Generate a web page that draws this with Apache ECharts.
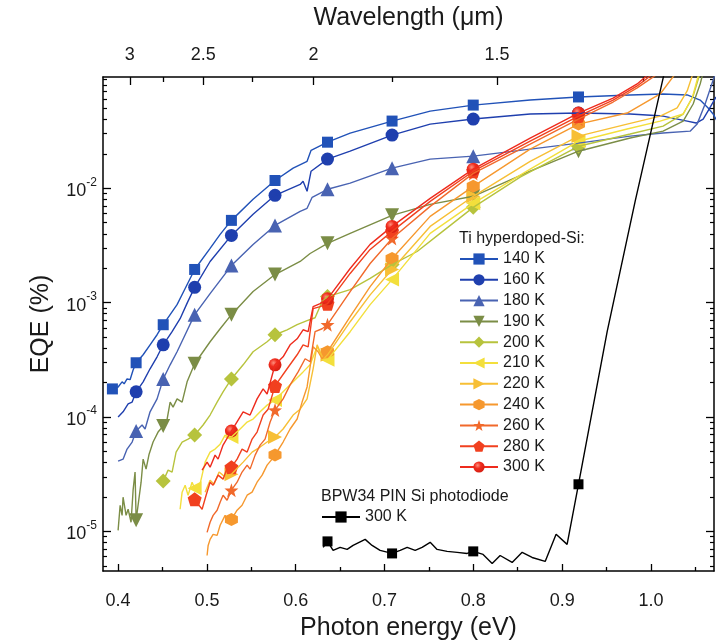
<!DOCTYPE html>
<html>
<head>
<meta charset="utf-8">
<script src="https://cdn.jsdelivr.net/npm/echarts@6/dist/echarts.min.js"></script>
<style>
html,body{margin:0;padding:0;background:#fff;}
#chart{width:725px;height:643px;}
</style>
</head>
<body>
<div id="chart"></div>
<script>
// Photon energy (eV) <-> wavelength (µm)
const HC = 1.2398;

// Energies where symbols are drawn on each curve (λ = 3.15 … 1.35 µm)
const markerEnergy = [0.3936, 0.4203, 0.4508, 0.4862, 0.5276, 0.5767, 0.6358, 0.7085, 0.7999, 0.9184];

// Axis ticks
const energyTicks = [0.4, 0.5, 0.6, 0.7, 0.8, 0.9, 1.0];
const energyMinorTicks = [0.45, 0.55, 0.65, 0.75, 0.85, 0.95, 1.05];
const wavelengthTicks = [3, 2.5, 2, 1.5];
const wavelengthMinorTicks = [2.75, 2.25, 1.75, 1.25];
const eqeDecades = [1e-5, 1e-4, 1e-3, 1e-2];
const eqeMinorTicks = [
  5e-6, 6e-6, 7e-6, 8e-6, 9e-6,
  2e-5, 3e-5, 4e-5, 5e-5, 6e-5, 7e-5, 8e-5, 9e-5,
  2e-4, 3e-4, 4e-4, 5e-4, 6e-4, 7e-4, 8e-4, 9e-4,
  2e-3, 3e-3, 4e-3, 5e-3, 6e-3, 7e-3, 8e-3, 9e-3,
  2e-2, 3e-2, 4e-2, 5e-2, 6e-2, 7e-2, 8e-2, 9e-2
];

// Ti hyperdoped-Si EQE (%) vs photon energy (eV)
const t140 = [[0.3936,1.76e-4],[0.4000,1.83e-4],[0.4045,2.03e-4],[0.4068,1.95e-4],[0.4101,2.15e-4],[0.4135,2.12e-4],[0.4169,2.58e-4],[0.4203,2.98e-4],[0.4282,3.50e-4],[0.4360,4.28e-4],[0.4439,5.24e-4],[0.4508,6.41e-4],[0.4586,7.85e-4],[0.4664,9.60e-4],[0.4755,1.33e-3],[0.4862,1.95e-3],[0.5036,2.98e-3],[0.5149,3.95e-3],[0.5276,5.24e-3],[0.5520,8.01e-3],[0.5767,1.17e-2],[0.5971,1.50e-2],[0.6128,1.72e-2],[0.6173,2.15e-2],[0.6358,2.53e-2],[0.6613,3.04e-2],[0.7085,3.87e-2],[0.7514,4.73e-2],[0.7999,5.34e-2],[0.8640,5.91e-2],[0.9184,6.29e-2],[0.9766,6.55e-2],[1.0137,6.68e-2],[1.0408,6.55e-2],[1.0554,5.91e-2],[1.0644,5.04e-2],[1.0700,4.46e-2],[1.0757,3.72e-2]];
const t160 = [[0.4000,1.00e-4],[0.4056,1.11e-4],[0.4113,1.30e-4],[0.4158,1.35e-4],[0.4203,1.66e-4],[0.4282,2.03e-4],[0.4360,2.64e-4],[0.4439,3.36e-4],[0.4508,4.28e-4],[0.4608,5.57e-4],[0.4698,7.24e-4],[0.4780,1.00e-3],[0.4862,1.36e-3],[0.5036,2.29e-3],[0.5276,3.87e-3],[0.5520,5.92e-3],[0.5767,8.68e-3],[0.6050,1.08e-2],[0.6083,1.15e-2],[0.6128,9.42e-3],[0.6173,1.41e-2],[0.6358,1.80e-2],[0.6613,2.11e-2],[0.7085,2.92e-2],[0.7514,3.64e-2],[0.7999,4.03e-2],[0.8640,4.46e-2],[0.9184,4.55e-2],[0.9766,4.46e-2],[1.0137,4.28e-2],[1.0408,3.87e-2],[1.0509,3.72e-2],[1.0588,4.03e-2],[1.0655,4.93e-2],[1.0734,6.29e-2]];
const t180 = [[0.4000,4.11e-5],[0.4056,4.28e-5],[0.4101,5.24e-5],[0.4158,6.03e-5],[0.4203,7.54e-5],[0.4270,8.51e-5],[0.4304,7.85e-5],[0.4360,1.11e-4],[0.4439,1.44e-4],[0.4508,2.15e-4],[0.4586,2.86e-4],[0.4664,3.72e-4],[0.4755,5.24e-4],[0.4862,7.85e-4],[0.5036,1.20e-3],[0.5276,2.11e-3],[0.5520,3.23e-3],[0.5767,4.73e-3],[0.6050,6.28e-3],[0.6128,6.68e-3],[0.6185,8.34e-3],[0.6358,9.80e-3],[0.6613,1.11e-2],[0.7085,1.50e-2],[0.7514,1.80e-2],[0.7999,1.91e-2],[0.8640,2.20e-2],[0.9184,2.48e-2],[0.9766,2.86e-2],[1.0137,3.04e-2],[1.0441,3.16e-2],[1.0520,3.64e-2],[1.0610,5.46e-2],[1.0678,7.85e-2],[1.0734,0.106]];
const t190 = [[0.4000,1.02e-5],[0.4023,1.69e-5],[0.4045,1.38e-5],[0.4056,1.99e-5],[0.4090,1.38e-5],[0.4113,1.56e-5],[0.4146,1.20e-5],[0.4169,2.29e-5],[0.4191,3.30e-5],[0.4203,1.25e-5],[0.4259,2.69e-5],[0.4282,4.28e-5],[0.4315,3.50e-5],[0.4349,4.73e-5],[0.4394,6.04e-5],[0.4450,7.38e-5],[0.4508,8.34e-5],[0.4552,9.60e-5],[0.4586,1.35e-4],[0.4619,1.22e-4],[0.4664,1.44e-4],[0.4721,1.35e-4],[0.4777,2.03e-4],[0.4862,2.92e-4],[0.4957,3.72e-4],[0.5036,4.55e-4],[0.5149,5.91e-4],[0.5276,7.85e-4],[0.5520,1.25e-3],[0.5767,1.76e-3],[0.6050,2.29e-3],[0.6162,2.69e-3],[0.6358,3.30e-3],[0.6613,4.03e-3],[0.7085,5.80e-3],[0.7514,7.24e-3],[0.7999,8.51e-3],[0.8640,1.41e-2],[0.9184,2.11e-2],[0.9766,2.75e-2],[1.0137,3.16e-2],[1.0363,3.87e-2],[1.0475,5.46e-2],[1.0554,8.17e-2],[1.0599,0.111]];
const t200 = [[0.4508,2.75e-5],[0.4563,3.43e-5],[0.4608,3.30e-5],[0.4653,4.93e-5],[0.4721,6.04e-5],[0.4788,6.41e-5],[0.4862,6.95e-5],[0.4957,8.51e-5],[0.5036,1.04e-4],[0.5115,1.35e-4],[0.5182,1.66e-4],[0.5276,2.15e-4],[0.5408,2.86e-4],[0.5520,3.72e-4],[0.5678,4.55e-4],[0.5767,5.24e-4],[0.5903,5.79e-4],[0.6016,6.41e-4],[0.6128,6.95e-4],[0.6218,7.38e-4],[0.6297,1.02e-3],[0.6358,1.13e-3],[0.6613,1.30e-3],[0.6838,1.63e-3],[0.7085,2.15e-3],[0.7367,2.80e-3],[0.7626,4.03e-3],[0.7999,6.81e-3],[0.8527,1.25e-2],[0.9184,2.33e-2],[0.9766,2.98e-2],[1.0137,3.50e-2],[1.0363,4.46e-2],[1.0475,6.41e-2],[1.0554,0.102]];
const t210 = [[0.4698,1.56e-5],[0.4721,2.20e-5],[0.4755,2.53e-5],[0.4788,2.07e-5],[0.4833,2.69e-5],[0.4862,2.38e-5],[0.4901,2.20e-5],[0.4946,3.10e-5],[0.4980,4.03e-5],[0.5036,4.93e-5],[0.5092,5.24e-5],[0.5149,5.79e-5],[0.5205,6.95e-5],[0.5276,6.68e-5],[0.5374,7.85e-5],[0.5453,9.03e-5],[0.5520,9.60e-5],[0.5599,1.11e-4],[0.5678,1.27e-4],[0.5767,1.41e-4],[0.5858,1.66e-4],[0.5971,2.03e-4],[0.6083,2.48e-4],[0.6162,2.86e-4],[0.6241,4.11e-4],[0.6309,3.16e-4],[0.6358,3.16e-4],[0.6613,5.57e-4],[0.6838,9.60e-4],[0.7085,1.59e-3],[0.7514,4.03e-3],[0.7999,7.38e-3],[0.8640,1.47e-2],[0.9184,2.58e-2],[0.9732,3.30e-2],[1.0104,3.87e-2],[1.0363,4.46e-2],[1.0464,6.15e-2],[1.0532,9.60e-2]];
const t220 = [[0.4980,2.20e-5],[0.5036,2.80e-5],[0.5081,2.58e-5],[0.5137,3.30e-5],[0.5194,3.04e-5],[0.5276,3.16e-5],[0.5408,4.03e-5],[0.5509,4.93e-5],[0.5599,5.46e-5],[0.5678,6.04e-5],[0.5767,6.68e-5],[0.5858,7.85e-5],[0.5971,1.04e-4],[0.6050,1.17e-4],[0.6128,1.44e-4],[0.6196,2.64e-4],[0.6241,4.28e-4],[0.6309,3.23e-4],[0.6358,3.50e-4],[0.6613,6.81e-4],[0.6838,1.17e-3],[0.7085,1.95e-3],[0.7514,4.64e-3],[0.7999,8.51e-3],[0.8640,1.72e-2],[0.9184,2.86e-2],[0.9732,3.64e-2],[1.0104,4.28e-2],[1.0295,5.04e-2],[1.0408,7.10e-2],[1.0475,0.102]];
const t240 = [[0.5002,6.15e-6],[0.5014,7.53e-6],[0.5036,8.51e-6],[0.5070,9.42e-6],[0.5115,9.22e-6],[0.5149,1.13e-5],[0.5205,1.38e-5],[0.5239,1.27e-5],[0.5276,1.27e-5],[0.5340,1.53e-5],[0.5396,1.69e-5],[0.5453,2.07e-5],[0.5509,2.20e-5],[0.5565,2.69e-5],[0.5622,3.10e-5],[0.5678,3.79e-5],[0.5734,4.28e-5],[0.5767,4.64e-5],[0.5858,6.04e-5],[0.5937,7.85e-5],[0.6016,9.60e-5],[0.6072,1.35e-4],[0.6128,1.83e-4],[0.6196,4.11e-4],[0.6252,3.72e-4],[0.6297,3.23e-4],[0.6358,3.72e-4],[0.6613,7.54e-4],[0.6838,1.38e-3],[0.7085,2.43e-3],[0.7514,5.68e-3],[0.7999,1.04e-2],[0.8640,2.20e-2],[0.9184,3.64e-2],[0.9732,4.55e-2],[1.0104,6.68e-2],[1.0273,0.100]];
const t260 = [[0.5002,9.80e-6],[0.5036,1.20e-5],[0.5070,1.38e-5],[0.5115,1.53e-5],[0.5149,1.80e-5],[0.5182,2.07e-5],[0.5227,1.87e-5],[0.5276,2.29e-5],[0.5340,2.69e-5],[0.5396,3.30e-5],[0.5453,3.79e-5],[0.5486,3.50e-5],[0.5543,4.64e-5],[0.5599,5.68e-5],[0.5655,6.41e-5],[0.5712,9.03e-5],[0.5767,1.15e-4],[0.5858,1.44e-4],[0.5937,1.91e-4],[0.6027,2.48e-4],[0.6106,3.23e-4],[0.6162,3.04e-4],[0.6218,5.57e-4],[0.6297,5.91e-4],[0.6358,6.41e-4],[0.6613,1.25e-3],[0.6838,2.20e-3],[0.7085,3.64e-3],[0.7514,6.95e-3],[0.7999,1.35e-2],[0.8640,2.43e-2],[0.9184,4.03e-2],[0.9574,5.68e-2],[0.9845,7.54e-2],[1.0059,9.80e-2]];
const t280 = [[0.4862,1.91e-5],[0.4901,1.73e-5],[0.4946,1.56e-5],[0.4991,2.07e-5],[0.5036,2.69e-5],[0.5070,2.53e-5],[0.5126,3.10e-5],[0.5182,2.86e-5],[0.5239,3.79e-5],[0.5276,3.64e-5],[0.5340,4.28e-5],[0.5396,5.24e-5],[0.5453,4.93e-5],[0.5509,6.41e-5],[0.5565,7.38e-5],[0.5633,1.04e-4],[0.5689,1.17e-4],[0.5767,1.87e-4],[0.5903,2.64e-4],[0.6016,3.50e-4],[0.6083,4.28e-4],[0.6140,4.11e-4],[0.6196,8.85e-4],[0.6275,9.22e-4],[0.6358,9.80e-4],[0.6613,1.80e-3],[0.6838,2.92e-3],[0.7085,4.20e-3],[0.7514,7.69e-3],[0.7999,1.41e-2],[0.8640,2.58e-2],[0.9184,4.28e-2],[0.9574,5.91e-2],[0.9845,7.85e-2],[1.0036,0.102]];
const t300 = [[0.4946,3.43e-5],[0.5002,4.03e-5],[0.5036,3.64e-5],[0.5092,4.64e-5],[0.5126,4.28e-5],[0.5182,5.68e-5],[0.5276,7.54e-5],[0.5408,1.11e-4],[0.5486,1.04e-4],[0.5565,1.44e-4],[0.5633,1.76e-4],[0.5678,1.59e-4],[0.5767,2.86e-4],[0.5858,3.36e-4],[0.5937,4.28e-4],[0.6016,4.83e-4],[0.6083,5.79e-4],[0.6140,5.57e-4],[0.6196,9.22e-4],[0.6275,9.80e-4],[0.6358,1.08e-3],[0.6613,1.99e-3],[0.6838,3.23e-3],[0.7085,4.64e-3],[0.7514,8.17e-3],[0.7999,1.47e-2],[0.8640,2.75e-2],[0.9184,4.55e-2],[0.9574,6.15e-2],[0.9845,8.17e-2],[1.0014,0.106]];

// BPW34 PIN Si photodiode, 300 K
const bpw34 = [[0.6309,7.24e-6],[0.6358,8.17e-6],[0.6421,6.81e-6],[0.6500,7.24e-6],[0.6579,6.95e-6],[0.6646,7.53e-6],[0.6782,8.51e-6],[0.6860,7.53e-6],[0.6950,6.81e-6],[0.7085,6.41e-6],[0.7176,6.81e-6],[0.7255,7.24e-6],[0.7345,6.81e-6],[0.7423,7.24e-6],[0.7514,8.02e-6],[0.7592,6.95e-6],[0.7705,6.68e-6],[0.7818,6.55e-6],[0.7930,6.41e-6],[0.7999,6.68e-6],[0.8110,6.28e-6],[0.8212,5.24e-6],[0.8302,6.15e-6],[0.8437,5.35e-6],[0.8550,6.55e-6],[0.8662,5.91e-6],[0.8809,5.46e-6],[0.8932,9.42e-6],[0.9056,7.69e-6],[0.9184,2.58e-5],[0.9507,5.57e-4],[0.9822,7.69e-3],[1.0137,9.20e-2],[1.0239,0.195]];

const FONT = '"Liberation Sans", Arial, Helvetica, sans-serif';
const TXT = '#1a1a1a';

const STAR = 'path://M50 0 L61.76 33.82 L97.55 34.55 L69.02 56.18 L79.39 90.45 L50 70 L20.61 90.45 L30.98 56.18 L2.45 34.55 L38.24 33.82 Z';
const PENTAGON = 'path://M50 0 L97.55 34.55 L79.39 90.45 L20.61 90.45 L2.45 34.55 Z';
const HEXAGON = 'path://M50 0 L93.3 25 L93.3 75 L50 100 L6.7 75 L6.7 25 Z';

const ballRed = {
  type: 'radial', x: 0.38, y: 0.35, r: 0.65,
  colorStops: [{offset: 0, color: '#ff8e7c'}, {offset: 0.45, color: '#ef2c1e'}, {offset: 1, color: '#d61f12'}]
};

const tiCurves = [
  {name: '140 K', data: t140, color: '#2152b8', symbol: 'rect', size: 11},
  {name: '160 K', data: t160, color: '#1f3fae', symbol: 'circle', size: 13},
  {name: '180 K', data: t180, color: '#4963b2', symbol: 'triangle', size: 14},
  {name: '190 K', data: t190, color: '#7b8d46', symbol: 'triangle', size: 14, rotate: 180},
  {name: '200 K', data: t200, color: '#b7c33d', symbol: 'diamond', size: 15},
  {name: '210 K', data: t210, color: '#f3df3c', symbol: 'triangle', size: 14, rotate: 90},
  {name: '220 K', data: t220, color: '#f7bf35', symbol: 'triangle', size: 14, rotate: -90},
  {name: '240 K', data: t240, color: '#f6982e', symbol: HEXAGON, size: 13},
  {name: '260 K', data: t260, color: '#f1692b', symbol: STAR, size: 14},
  {name: '280 K', data: t280, color: '#f1401f', symbol: PENTAGON, size: 14},
  {name: '300 K', data: t300, color: '#ee2b1d', fill: ballRed, symbol: 'circle', size: 13}
];
const bpwCurve = {name: 'BPW34 300 K', data: bpw34, color: '#000000', symbol: 'rect', size: 10};

function curveSeries(c) {
  const fill = c.fill || c.color;
  const marks = c.data.filter(p => markerEnergy.includes(p[0]));
  return [
    {
      type: 'line', name: c.name, data: c.data,
      xAxisIndex: 0, yAxisIndex: 0,
      showSymbol: false, symbol: c.symbol, symbolSize: c.size, symbolRotate: c.rotate || 0,
      lineStyle: {color: c.color, width: 1.4},
      itemStyle: {color: fill},
      emphasis: {disabled: true}, silent: true, clip: true
    },
    {
      type: 'scatter', name: c.name, data: marks,
      xAxisIndex: 0, yAxisIndex: 0,
      symbol: c.symbol, symbolSize: c.size, symbolRotate: c.rotate || 0,
      itemStyle: {color: fill, opacity: 1},
      emphasis: {disabled: true}, silent: true, clip: false
    }
  ];
}

const series = [];
tiCurves.forEach(c => series.push(...curveSeries(c)));
series.push(...curveSeries(bpwCurve));

const X_MIN = 0.383, X_MAX = 1.071;
const Y_MIN = 4.5e-6, Y_MAX = 0.094;
const axisLineStyle = {color: '#000', width: 1.5};

const option = {
  animation: false,
  backgroundColor: '#ffffff',
  grid: {left: 103, right: 11, top: 77, bottom: 72, containLabel: false, outerBoundsMode: 'none'},
  xAxis: [
    {
      type: 'value', position: 'bottom', min: X_MIN, max: X_MAX,
      axisLine: {show: true, onZero: false, lineStyle: axisLineStyle},
      axisTick: {show: true, inside: true, length: 7, customValues: energyTicks, lineStyle: {color: '#000', width: 1.3}},
      axisLabel: {customValues: energyTicks, formatter: v => v.toFixed(1), fontSize: 18, color: TXT, fontFamily: FONT, margin: 21},
      splitLine: {show: false},
      name: 'Photon energy (eV)', nameLocation: 'middle', nameGap: 45,
      nameTextStyle: {fontSize: 25, color: TXT, fontFamily: FONT}
    },
    {
      type: 'value', position: 'bottom', min: X_MIN, max: X_MAX,
      axisLine: {show: false},
      axisTick: {show: true, inside: true, length: 4, customValues: energyMinorTicks, lineStyle: {color: '#000', width: 1.3}},
      axisLabel: {show: false}, splitLine: {show: false}
    },
    {
      type: 'value', position: 'top', min: X_MIN, max: X_MAX,
      axisLine: {show: true, onZero: false, lineStyle: axisLineStyle},
      axisTick: {show: true, inside: true, length: 8, customValues: wavelengthTicks.map(w => HC / w), lineStyle: {color: '#000', width: 1.3}},
      axisLabel: {customValues: wavelengthTicks.map(w => HC / w), formatter: v => String(+(HC / v).toFixed(2)), fontSize: 18, color: TXT, fontFamily: FONT, margin: 13},
      splitLine: {show: false},
      name: 'Wavelength (\u03bcm)', nameLocation: 'middle', nameGap: 46,
      nameTextStyle: {fontSize: 25, color: TXT, fontFamily: FONT}
    },
    {
      type: 'value', position: 'top', min: X_MIN, max: X_MAX,
      axisLine: {show: false},
      axisTick: {show: true, inside: true, length: 5, customValues: wavelengthMinorTicks.map(w => HC / w), lineStyle: {color: '#000', width: 1.3}},
      axisLabel: {show: false}, splitLine: {show: false}
    }
  ],
  yAxis: [
    {
      type: 'log', logBase: 10, position: 'left', min: Y_MIN, max: Y_MAX,
      axisLine: {show: true, onZero: false, lineStyle: axisLineStyle},
      axisTick: {show: true, inside: true, length: 8, customValues: eqeDecades, lineStyle: {color: '#000', width: 1.3}},
      axisLabel: {
        customValues: eqeDecades,
        formatter: v => '{b|10}{s|' + Math.round(Math.log10(v)) + '}',
        margin: 6,
        rich: {
          b: {fontSize: 18, color: TXT, fontFamily: FONT, lineHeight: 24, verticalAlign: 'bottom'},
          s: {fontSize: 12, color: TXT, fontFamily: FONT, lineHeight: 13, verticalAlign: 'top'}
        }
      },
      splitLine: {show: false},
      name: 'EQE (%)', nameLocation: 'middle', nameGap: 49,
      nameTextStyle: {fontSize: 25, color: TXT, fontFamily: FONT}
    },
    {
      type: 'log', logBase: 10, position: 'left', min: Y_MIN, max: Y_MAX,
      axisLine: {show: false},
      axisTick: {show: true, inside: true, length: 4, customValues: eqeMinorTicks, lineStyle: {color: '#000', width: 1.2}},
      axisLabel: {show: false}, splitLine: {show: false}
    },
    {
      type: 'log', logBase: 10, position: 'right', min: Y_MIN, max: Y_MAX,
      axisLine: {show: true, onZero: false, lineStyle: axisLineStyle},
      axisTick: {show: true, inside: true, length: 8, customValues: eqeDecades, lineStyle: {color: '#000', width: 1.3}},
      axisLabel: {show: false}, splitLine: {show: false}
    },
    {
      type: 'log', logBase: 10, position: 'right', min: Y_MIN, max: Y_MAX,
      axisLine: {show: false},
      axisTick: {show: true, inside: true, length: 4, customValues: eqeMinorTicks, lineStyle: {color: '#000', width: 1.2}},
      axisLabel: {show: false}, splitLine: {show: false}
    }
  ],
  legend: [
    {
      data: tiCurves.map(c => c.name),
      orient: 'vertical', left: 459, top: 251, padding: 0,
      itemWidth: 38, itemHeight: 14, itemGap: 4.8, itemTextGap: 5,
      selectedMode: false,
      textStyle: {fontSize: 16, color: TXT, fontFamily: FONT}
    },
    {
      data: [bpwCurve.name],
      orient: 'vertical', left: 321, top: 509, padding: 0,
      itemWidth: 38, itemHeight: 14, itemTextGap: 4,
      selectedMode: false,
      formatter: () => '300 K',
      textStyle: {fontSize: 16, color: TXT, fontFamily: FONT}
    }
  ],
  graphic: [
    {type: 'text', left: 459, top: 231, silent: true,
     style: {text: 'Ti hyperdoped-Si:', fontSize: 16, fill: TXT, fontFamily: FONT}},
    {type: 'text', left: 321, top: 489, silent: true,
     style: {text: 'BPW34 PIN Si photodiode', fontSize: 16, fill: TXT, fontFamily: FONT}}
  ],
  series: series
};

const chart = echarts.init(document.getElementById('chart'), null, {renderer: 'canvas'});
chart.setOption(option);
</script>
</body>
</html>
